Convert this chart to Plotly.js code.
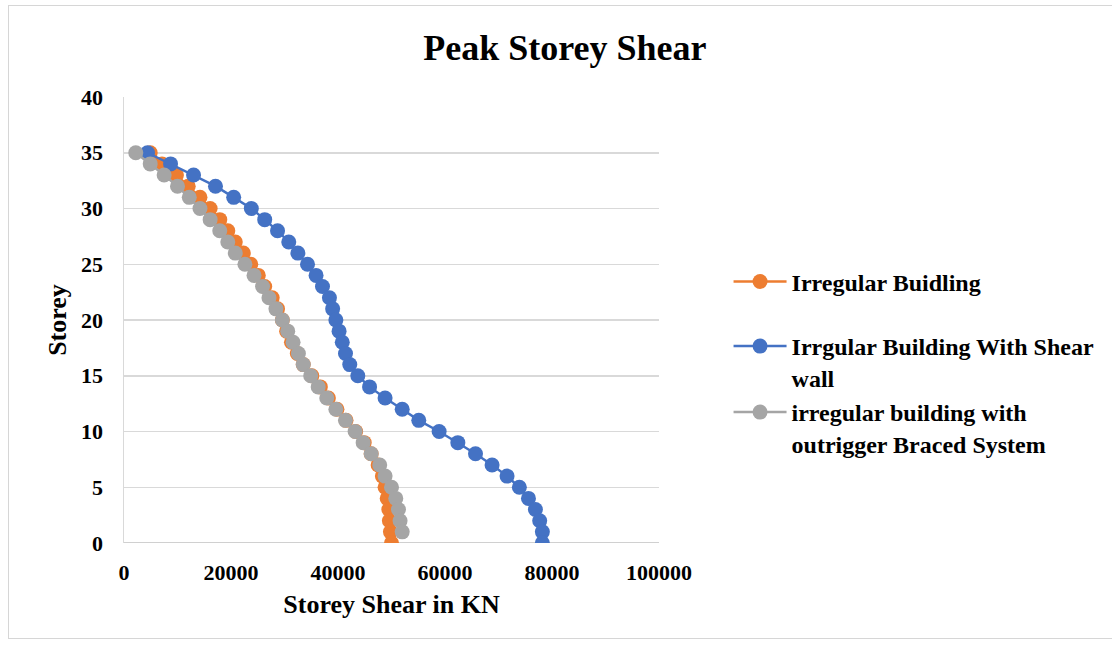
<!DOCTYPE html>
<html>
<head>
<meta charset="utf-8">
<script src="https://cdn.plot.ly/plotly-3.0.1.min.js"></script>
<style>
  html, body { margin: 0; padding: 0; background: #ffffff; }
  #chart { width: 1112px; height: 647px; }
  #frame { position: absolute; left: 8px; top: 5px; width: 1110px; height: 634px;
           border: 1.5px solid #d6d6d6; pointer-events: none; box-sizing: border-box; }
</style>
</head>
<body>
<div id="chart"></div>
<div id="frame"></div>
<script>
const seriesNames = [
  "Irregular Buidling",
  "Irrgular Building With Shear<br>wall",
  "irregular building with<br>outrigger Braced System"
];

const storeysIrregular = [35,34,33,32,31,30,29,28,27,26,25,24,23,22,21,20,19,18,17,16,15,14,13,12,11,10,9,8,7,6,5,4,3,2,1,0];
const shearIrregular = [4900,7100,9800,12000,14200,16100,17900,19400,20800,22300,23700,25100,26300,27700,28700,29600,30400,31300,32400,33500,35100,36700,38200,39800,41500,43300,44900,46200,47500,48300,48800,49200,49500,49600,49800,50000];

const storeysShearWall = [35,34,33,32,31,30,29,28,27,26,25,24,23,22,21,20,19,18,17,16,15,14,13,12,11,10,9,8,7,6,5,4,3,2,1,0];
const shearShearWall = [4400,8700,13000,17100,20500,23800,26300,28700,30800,32500,34300,35900,37100,38400,39000,39600,40200,40800,41400,42200,43700,45900,48800,52000,55100,58900,62400,65700,68800,71600,73900,75600,76900,77700,78200,78200];

const storeysOutrigger = [35,34,33,32,31,30,29,28,27,26,25,24,23,22,21,20,19,18,17,16,15,14,13,12,11,10,9,8,7,6,5,4,3,2,1];
const shearOutrigger = [2200,4900,7500,10000,12200,14200,16100,17900,19400,20800,22600,24300,25900,27100,28400,29600,30600,31600,32600,33500,34900,36300,37900,39600,41400,43200,44700,46200,47800,48800,50000,50800,51300,51600,52000];

const xTickVals = [0, 20000, 40000, 60000, 80000, 100000];
const yTickVals = [0, 5, 10, 15, 20, 25, 30, 35, 40];

const colors = ["#ED7D31", "#4472C4", "#A5A5A5"];
const serif = "Liberation Serif, Times New Roman, serif";

function mk(x, y, name, color, legendId) {
  return {
    x: x, y: y, name: name, type: "scatter", mode: "lines+markers",
    line: { color: color, width: 2.5 },
    marker: { color: color, size: 15 },
    legend: legendId
  };
}

const data = [
  mk(shearIrregular, storeysIrregular, seriesNames[0], colors[0], "legend"),
  mk(shearShearWall, storeysShearWall, seriesNames[1], colors[1], "legend2"),
  mk(shearOutrigger, storeysOutrigger, seriesNames[2], colors[2], "legend3")
];

function leg(y) {
  return {
    x: 1.13, xanchor: "left", y: y, yanchor: "top", valign: "top",
    font: { family: serif, size: 24, color: "#000000", weight: "bold" },
    itemwidth: 53, bgcolor: "rgba(0,0,0,0)"
  };
}

const layout = {
  width: 1112, height: 647,
  margin: { l: 124, r: 448, t: 97, b: 104 },
  paper_bgcolor: "#ffffff", plot_bgcolor: "#ffffff",
  font: { family: serif, color: "#000000" },
  title: {
    text: "<b>Peak Storey Shear</b>",
    font: { family: serif, size: 36, color: "#000000" },
    x: 0.508, xanchor: "center", xref: "container",
    y: 0.927, yanchor: "middle", yref: "container"
  },
  xaxis: {
    range: [0, 100000], tickvals: xTickVals, tickformat: "d",
    showgrid: false, zeroline: false, showline: false,
    ticks: "", ticklabelstandoff: 14,
    tickfont: { family: serif, size: 22, color: "#000000", weight: "bold" },
    title: { text: "<b>Storey Shear in KN</b>", font: { family: serif, size: 26, color: "#000000" }, standoff: 10 },
    fixedrange: true
  },
  yaxis: {
    range: [0, 40], tickvals: yTickVals,
    showgrid: true, gridcolor: "#d9d9d9", gridwidth: 1.5,
    zeroline: false, showline: true, linecolor: "#d9d9d9", linewidth: 1.5,
    ticks: "", ticklabelstandoff: 15,
    tickfont: { family: serif, size: 22, color: "#000000", weight: "bold" },
    title: { text: "<b>Storey</b>", font: { family: serif, size: 26, color: "#000000" }, standoff: 7 },
    fixedrange: true
  },
  shapes: [
    { type: "line", xref: "paper", yref: "y", x0: 0, x1: 1, y0: 0, y1: 0,
      line: { color: "#d0d0d0", width: 2 }, layer: "below" }
  ],
  showlegend: true,
  legend: leg(0.636),
  legend2: leg(0.491),
  legend3: leg(0.343)
};

Plotly.newPlot("chart", data, layout, { displayModeBar: false, staticPlot: true });
</script>
</body>
</html>
